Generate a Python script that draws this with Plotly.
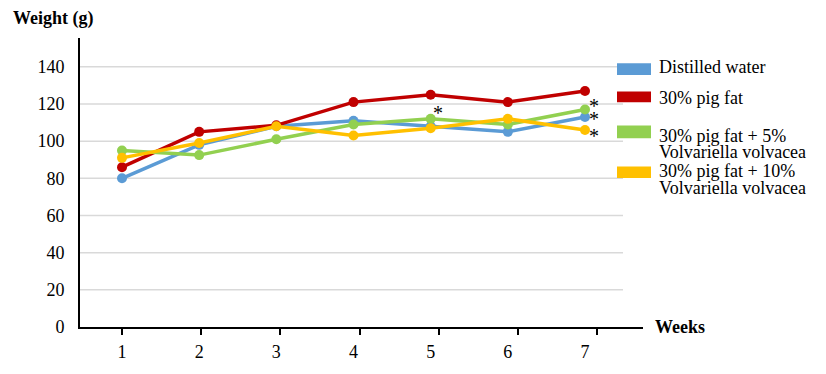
import plotly.graph_objects as go

weeks = [1, 2, 3, 4, 5, 6, 7]
distilled_water = [80, 98, 108, 111, 108, 105, 113]
pig_fat_30 = [86, 105, 108.5, 121, 125, 121, 127]
pig_fat_vv5 = [95, 92.5, 101, 109, 112, 109, 117]
pig_fat_vv10 = [91, 99, 108, 103, 107, 112, 106]

series_names = ["Distilled water", "30% pig fat",
                "30% pig fat + 5%\nVolvariella volvacea",
                "30% pig fat + 10%\nVolvariella volvacea"]
series_values = [distilled_water, pig_fat_30, pig_fat_vv5, pig_fat_vv10]
colors = ["#5b9bd5", "#c00000", "#92d050", "#ffc000"]

y_ticks = [0, 20, 40, 60, 80, 100, 120, 140]
x_ticks = weeks

# significance markers: (week, value, dx, dy)
stars = [(5, pig_fat_vv5[4], 7, 6), (7, pig_fat_vv5[6], 9, 4),
         (7, distilled_water[6], 9, -2.5), (7, pig_fat_vv10[6], 9, -6)]

W, H = 826, 374
L, R, T, B = 80, 643, 38, 335  # plot area in pixels
FONT = "Liberation Serif"
FS = 18

def px(x):
    return (x - L) / (R - L)

def py(y):
    return (B - y) / (B - T)

fig = go.Figure()
for name, vals, c in zip(series_names, series_values, colors):
    fig.add_trace(go.Scatter(x=weeks, y=vals, mode="lines+markers",
                             name=name.replace("\n", " "),
                             line=dict(color=c, width=3.5),
                             marker=dict(color=c, size=10), showlegend=False))
# carrier for the tick-mark axis (drawn slightly wider than the data axis, as in the original)
fig.add_trace(go.Scatter(x=[], y=[], xaxis="x2", showlegend=False, hoverinfo="skip"))

shapes = []
for v in y_ticks[1:]:
    shapes.append(dict(type="line", xref="paper", yref="y", x0=0, x1=px(623),
                       y0=v, y1=v, line=dict(color="#d9d9d9", width=1.5), layer="below"))

annotations = []
legend_rows = [(64, 76, [68]), (93, 104, [99.7]), (128, 141, [138.3, 155]),
               (170, 182, [175, 192.3])]
for (y0, y1, lines), name, c in zip(legend_rows, series_names, colors):
    shapes.append(dict(type="rect", xref="paper", yref="paper", x0=px(617), x1=px(651),
                       y0=py(y1), y1=py(y0), fillcolor=c, line=dict(width=0)))
    for ty, txt in zip(lines, name.split("\n")):
        annotations.append(dict(xref="paper", yref="paper", x=px(657), y=py(ty),
                                xanchor="left", yanchor="middle", align="left",
                                text=txt, showarrow=False,
                                font=dict(family=FONT, size=FS, color="black")))

for wk, val, dx, dy in stars:
    annotations.append(dict(xref="x", yref="y", x=wk, y=val, xshift=dx, yshift=dy,
                            text="*", showarrow=False,
                            font=dict(family=FONT, size=20, color="black")))

annotations.append(dict(xref="paper", yref="paper", x=px(11), y=py(18.3),
                        xanchor="left", yanchor="middle", text="<b>Weight (g)</b>",
                        showarrow=False, font=dict(family=FONT, size=FS, color="black")))
annotations.append(dict(xref="paper", yref="paper", x=px(653), y=py(335),
                        xanchor="left", yanchor="middle", text="<b>Weeks</b>",
                        showarrow=False, font=dict(family=FONT, size=FS, color="black")))

x0 = 1 - (122 - L) / 77.17
x1 = 7 + (R - 585) / 77.17
t0 = 1 - (122.3 - L) / 79.1
t1 = 7 + (R - 596.7) / 79.1

fig.update_layout(
    width=W, height=H,
    margin=dict(l=L, r=W - R, t=T, b=H - B),
    plot_bgcolor="white", paper_bgcolor="white",
    font=dict(family=FONT, size=FS, color="black"),
    xaxis=dict(range=[x0, x1], tickvals=x_ticks, ticktext=[str(w) for w in x_ticks],
               showgrid=False, zeroline=False, showline=True, linecolor="black",
               linewidth=2, ticks="outside", ticklen=7, tickwidth=2,
               tickcolor="rgba(0,0,0,0)",
               tickfont=dict(family=FONT, size=FS, color="black")),
    xaxis2=dict(range=[t0, t1], overlaying="x", side="bottom", anchor="y",
                tickvals=x_ticks, showticklabels=False, showgrid=False, zeroline=False,
                showline=False, ticks="outside", ticklen=7, tickwidth=2, tickcolor="black"),
    yaxis=dict(range=[0, 155.5], tickvals=y_ticks, showgrid=False, zeroline=False,
               showline=True, linecolor="black", linewidth=2, ticks="",
               ticklabelstandoff=10,
               tickfont=dict(family=FONT, size=FS, color="black")),
    shapes=shapes, annotations=annotations, showlegend=False,
)

fig.write_html("out.html", config={"displayModeBar": False},
               post_script="document.body.style.margin='0px';document.body.style.overflow='hidden';")
